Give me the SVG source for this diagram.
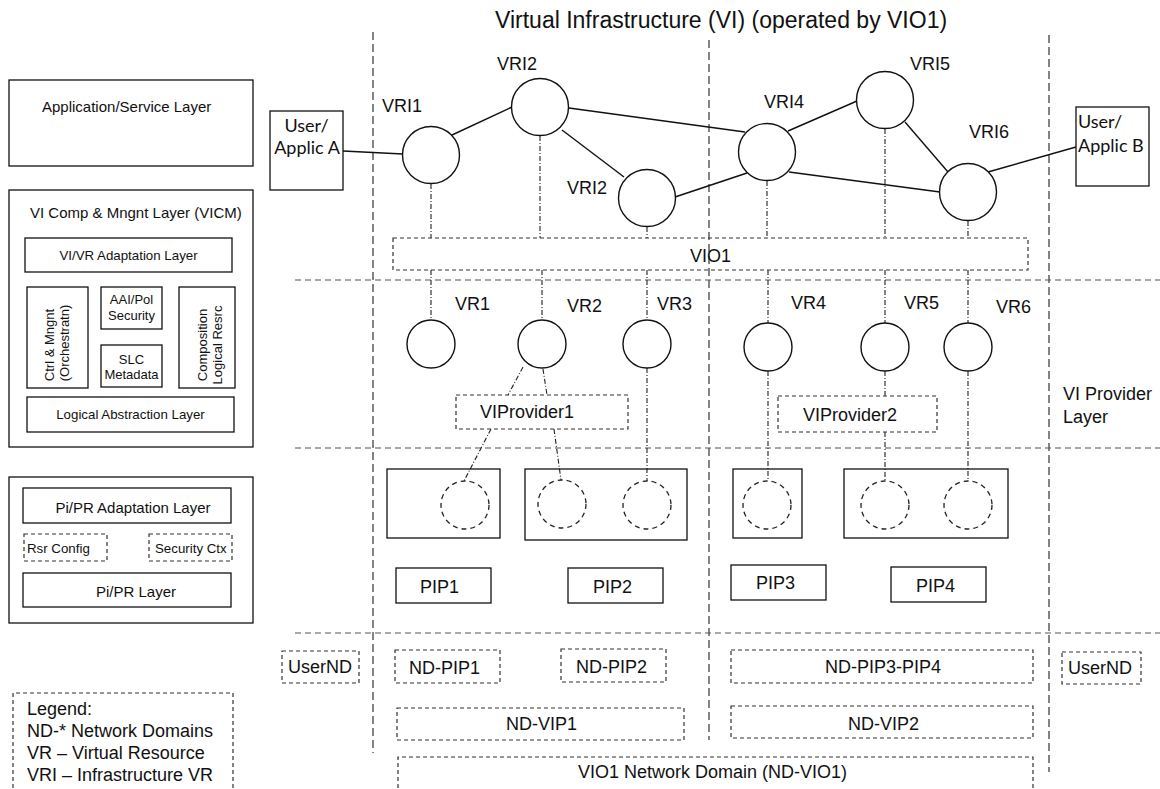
<svg xmlns="http://www.w3.org/2000/svg" width="1160" height="789" viewBox="0 0 1160 789">
<style>
text{font-family:"Liberation Sans",Arial,sans-serif;fill:#111;}
.t18{font-size:18px;}
.t15{font-size:15px;}
.t13{font-size:13.3px;}
.t12{font-size:13px;}
.t22{font-size:23px;}
.ua{font-family:Lato,"Liberation Sans",sans-serif;font-size:18px;}
.box{fill:none;stroke:#111;stroke-width:1.3;}
.wbox{fill:#fff;stroke:#111;stroke-width:1.3;}
.dbox{fill:none;stroke:#333;stroke-width:1.2;stroke-dasharray:4 3;}
.circ{fill:#fff;stroke:#111;stroke-width:1.4;}
.dcirc{fill:none;stroke:#222;stroke-width:1.3;stroke-dasharray:5 4;}
.vline{fill:none;stroke:#333;stroke-width:1.2;stroke-dasharray:8 4;}
.hline{fill:none;stroke:#555;stroke-width:1.2;stroke-dasharray:6 4;}
.edge{fill:none;stroke:#111;stroke-width:1.4;}
.dd{fill:none;stroke:#222;stroke-width:1.1;stroke-dasharray:5 2 1 2;}
</style>

<g id="layers">
<line class="vline" x1="373" y1="32" x2="373" y2="753"/>
<line class="vline" x1="709" y1="40" x2="709" y2="740"/>
<line class="vline" x1="1049" y1="35" x2="1049" y2="772"/>
<line class="hline" x1="295" y1="280" x2="1160" y2="280"/>
<line class="hline" x1="295" y1="448" x2="1160" y2="448"/>
<line class="hline" x1="295" y1="633" x2="1160" y2="633"/>
<text class="t22" x="495" y="28">Virtual Infrastructure (VI) (operated by VIO1)</text>
<text class="t18" x="1063" y="400">VI Provider</text>
<text class="t18" x="1063" y="423">Layer</text>
</g>

<g id="left-panel">
<g id="app-layer">
<rect class="box" x="9" y="80" width="244" height="86"/>
<text class="t15" x="42" y="112">Application/Service Layer</text>
</g>
<g id="vicm">
<rect class="box" x="9" y="190" width="244" height="257"/>
<text class="t15" x="30" y="218">VI Comp &amp; Mngnt Layer (VICM)</text>
<rect class="box" x="25" y="238" width="207" height="34"/>
<text class="t13" x="128.5" y="260" text-anchor="middle">VI/VR Adaptation Layer</text>
<rect class="box" x="27" y="287" width="61" height="101"/>
<text class="t12" transform="translate(54,345) rotate(-90)" text-anchor="middle">Ctrl &amp; Mngnt</text>
<text class="t12" transform="translate(69,343) rotate(-90)" text-anchor="middle">(Orchestratn)</text>
<rect class="box" x="101" y="287" width="61" height="42"/>
<text class="t12" x="131.5" y="304" text-anchor="middle">AAI/Pol</text>
<text class="t12" x="131.5" y="320" text-anchor="middle">Security</text>
<rect class="box" x="101" y="345" width="61" height="42"/>
<text class="t12" x="131.5" y="364" text-anchor="middle">SLC</text>
<text class="t12" x="131.5" y="379" text-anchor="middle">Metadata</text>
<rect class="box" x="179" y="287" width="56" height="101"/>
<text class="t12" transform="translate(207,345) rotate(-90)" text-anchor="middle">Composition</text>
<text class="t12" transform="translate(222,345) rotate(-90)" text-anchor="middle">Logical Resrc</text>
<rect class="box" x="27" y="397" width="207" height="35"/>
<text class="t13" x="130.5" y="419" text-anchor="middle">Logical Abstraction Layer</text>
</g>
<g id="pipr">
<rect class="box" x="9" y="477" width="244" height="146"/>
<rect class="box" x="23" y="488" width="208" height="35"/>
<text class="t15" x="133" y="513" text-anchor="middle">Pi/PR Adaptation Layer</text>
<rect class="dbox" x="24" y="534" width="83" height="27"/>
<text class="t13" x="27" y="553">Rsr Config</text>
<rect class="dbox" x="149" y="534" width="83" height="27"/>
<text class="t13" x="155" y="553">Security Ctx</text>
<rect class="box" x="23" y="573" width="208" height="34"/>
<text class="t15" x="136" y="597" text-anchor="middle">Pi/PR Layer</text>
</g>
<g id="legend">
<path class="dbox" d="M13,795 V693 H233 V795"/>
<text class="t18" x="27" y="715">Legend:</text>
<text class="t18" x="27" y="737">ND-* Network Domains</text>
<text class="t18" x="27" y="759">VR – Virtual Resource</text>
<text class="t18" x="27" y="781">VRI – Infrastructure VR</text>
</g>
</g>

<g id="connectors">
<line class="edge" x1="343" y1="151" x2="403" y2="154"/>
<line class="edge" x1="452" y1="135" x2="512" y2="107"/>
<line class="edge" x1="569" y1="108" x2="745" y2="132"/>
<line class="edge" x1="562" y1="130" x2="624" y2="177"/>
<line class="edge" x1="675" y1="197" x2="747" y2="173"/>
<line class="edge" x1="788" y1="131" x2="857" y2="101"/>
<line class="edge" x1="789" y1="172" x2="940" y2="192"/>
<line class="edge" x1="905" y1="122" x2="948" y2="172"/>
<line class="edge" x1="988" y1="172" x2="1076" y2="147"/>
<line class="dd" x1="431" y1="184" x2="431" y2="238"/>
<line class="dd" x1="540" y1="136" x2="540" y2="238"/>
<line class="dd" x1="647" y1="227" x2="647" y2="238"/>
<line class="dd" x1="767" y1="181" x2="767" y2="238"/>
<line class="dd" x1="885" y1="129" x2="885" y2="238"/>
<line class="dd" x1="968" y1="221" x2="968" y2="238"/>
<line class="dd" x1="431" y1="270" x2="431" y2="320"/>
<line class="dd" x1="542" y1="270" x2="542" y2="320"/>
<line class="dd" x1="647" y1="270" x2="647" y2="320"/>
<line class="dd" x1="768" y1="270" x2="768" y2="323"/>
<line class="dd" x1="885" y1="270" x2="885" y2="323"/>
<line class="dd" x1="968" y1="270" x2="968" y2="323"/>
<line class="dd" x1="523" y1="367" x2="508" y2="395"/>
<line class="dd" x1="543" y1="369" x2="547" y2="395"/>
<line class="dd" x1="491" y1="429" x2="464" y2="481"/>
<line class="dd" x1="554" y1="429" x2="561" y2="480"/>
<line class="dd" x1="647" y1="368" x2="647" y2="481"/>
<line class="dd" x1="768" y1="371" x2="768" y2="481"/>
<line class="dd" x1="885" y1="371" x2="885" y2="396"/>
<line class="dd" x1="885" y1="432" x2="885" y2="481"/>
<line class="dd" x1="968" y1="371" x2="968" y2="481"/>
</g>

<g id="userA">
<rect class="wbox" x="270" y="111" width="73" height="79"/>
<text class="ua" x="306.5" y="132" text-anchor="middle">User/</text>
<text class="ua" x="307" y="154" text-anchor="middle">Applic A</text>
</g>
<g id="userB">
<rect class="wbox" x="1076" y="107" width="73" height="79"/>
<text class="ua" x="1078" y="128">User/</text>
<text class="ua" x="1078" y="152">Applic B</text>
</g>

<g id="VRI1"><circle class="circ" cx="431" cy="155" r="28.5"/><text class="t18" x="382" y="112">VRI1</text></g>
<g id="VRI2a"><circle class="circ" cx="540" cy="107" r="28.5"/><text class="t18" x="497" y="70">VRI2</text></g>
<g id="VRI2b"><circle class="circ" cx="647" cy="198" r="28.5"/><text class="t18" x="567" y="194">VRI2</text></g>
<g id="VRI4"><circle class="circ" cx="767" cy="152" r="28.5"/><text class="t18" x="764" y="108">VRI4</text></g>
<g id="VRI5"><circle class="circ" cx="885" cy="100" r="28.5"/><text class="t18" x="910" y="70">VRI5</text></g>
<g id="VRI6"><circle class="circ" cx="968" cy="192" r="28.5"/><text class="t18" x="969" y="138">VRI6</text></g>

<g id="VIO1">
<rect class="dbox" x="393" y="238" width="635" height="32"/>
<text class="t18" x="690" y="262">VIO1</text>
</g>

<g id="VR1"><circle class="circ" cx="431" cy="344" r="24"/><text class="t18" x="455" y="310">VR1</text></g>
<g id="VR2"><circle class="circ" cx="542" cy="344" r="24"/><text class="t18" x="567" y="312">VR2</text></g>
<g id="VR3"><circle class="circ" cx="647" cy="344" r="24"/><text class="t18" x="657" y="310">VR3</text></g>
<g id="VR4"><circle class="circ" cx="768" cy="347" r="24"/><text class="t18" x="791" y="309">VR4</text></g>
<g id="VR5"><circle class="circ" cx="885" cy="347" r="24"/><text class="t18" x="904" y="309">VR5</text></g>
<g id="VR6"><circle class="circ" cx="968" cy="347" r="24"/><text class="t18" x="996" y="313">VR6</text></g>

<g id="VIProvider1">
<rect class="dbox" x="456" y="395" width="172" height="34"/>
<text class="t18" x="480" y="418">VIProvider1</text>
</g>
<g id="VIProvider2">
<rect class="dbox" x="778" y="396" width="159" height="36"/>
<text class="t18" x="803" y="421">VIProvider2</text>
</g>

<g id="phys1">
<rect class="box" x="387" y="469" width="113" height="69"/>
<circle class="dcirc" cx="465" cy="505" r="24"/>
</g>
<g id="phys2">
<rect class="box" x="525" y="469" width="162" height="71"/>
<circle class="dcirc" cx="562" cy="504" r="24"/>
<circle class="dcirc" cx="647" cy="505" r="24"/>
</g>
<g id="phys3">
<rect class="box" x="733" y="469" width="69" height="69"/>
<circle class="dcirc" cx="767" cy="505" r="24"/>
</g>
<g id="phys4">
<rect class="box" x="844" y="469" width="164" height="69"/>
<circle class="dcirc" cx="885" cy="505" r="24"/>
<circle class="dcirc" cx="968" cy="505" r="24"/>
</g>

<g id="PIP1"><rect class="box" x="396" y="568" width="95" height="35"/><text class="t18" x="420" y="593">PIP1</text></g>
<g id="PIP2"><rect class="box" x="568" y="568" width="95" height="35"/><text class="t18" x="593" y="593">PIP2</text></g>
<g id="PIP3"><rect class="box" x="731" y="565" width="95" height="35"/><text class="t18" x="756" y="589">PIP3</text></g>
<g id="PIP4"><rect class="box" x="891" y="567" width="95" height="35"/><text class="t18" x="916" y="592">PIP4</text></g>

<g id="UserND-left"><rect class="dbox" x="282" y="651" width="77" height="32"/><text class="t18" x="288" y="673">UserND</text></g>
<g id="ND-PIP1"><rect class="dbox" x="395" y="650" width="105" height="33"/><text class="t18" x="409" y="674">ND-PIP1</text></g>
<g id="ND-PIP2"><rect class="dbox" x="561" y="649" width="105" height="33"/><text class="t18" x="576" y="673">ND-PIP2</text></g>
<g id="ND-VIP1"><rect class="dbox" x="397" y="708" width="287" height="32"/><text class="t18" x="506" y="730">ND-VIP1</text></g>
<g id="ND-PIP3-PIP4"><rect class="dbox" x="731" y="650" width="302" height="33"/><text class="t18" x="825" y="673">ND-PIP3-PIP4</text></g>
<g id="ND-VIP2"><rect class="dbox" x="731" y="706" width="302" height="32"/><text class="t18" x="848" y="730">ND-VIP2</text></g>
<g id="UserND-right"><rect class="dbox" x="1062" y="652" width="79" height="32"/><text class="t18" x="1068" y="674">UserND</text></g>
<g id="ND-VIO1">
<path class="dbox" d="M398,795 V757 H1033 V795"/>
<text class="t18" x="578" y="778">VIO1 Network Domain (ND-VIO1)</text>
</g>
</svg>
